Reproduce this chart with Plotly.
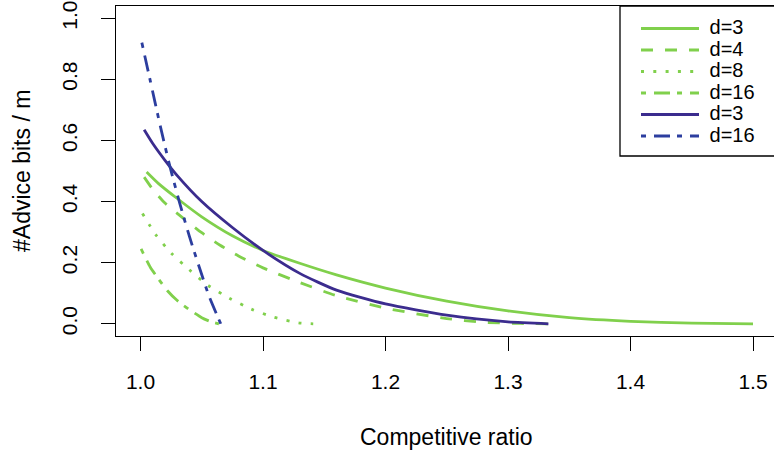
import plotly.graph_objects as go

# ---- data ----
x_g3 = [1.005, 1.015, 1.03, 1.05, 1.075, 1.10, 1.13, 1.16, 1.20, 1.25, 1.30, 1.35, 1.40, 1.45, 1.50]
y_g3 = [0.497, 0.458, 0.41, 0.35, 0.288, 0.240, 0.198, 0.160, 0.117, 0.074, 0.042, 0.020, 0.008, 0.002, 0.0]

x_g4 = [1.003, 1.01, 1.02, 1.035, 1.05, 1.065, 1.08, 1.10, 1.13, 1.16, 1.20, 1.25, 1.28, 1.31, 1.333]
y_g4 = [0.48, 0.44, 0.395, 0.345, 0.298, 0.257, 0.222, 0.183, 0.135, 0.092, 0.051, 0.017, 0.005, 0.001, 0.0]

x_g8 = [1.0016, 1.0122, 1.0251, 1.0398, 1.055, 1.0724, 1.0904, 1.1091, 1.129, 1.141]
y_g8 = [0.361, 0.293, 0.231, 0.177, 0.126, 0.084, 0.048, 0.021, 0.003, 0.0]

x_g16 = [1.0005, 1.008, 1.015, 1.022, 1.03, 1.04, 1.05, 1.058, 1.064]
y_g16 = [0.245, 0.185, 0.145, 0.108, 0.076, 0.046, 0.02, 0.006, 0.0]

x_b3 = [1.003, 1.01, 1.02, 1.03, 1.05, 1.075, 1.10, 1.13, 1.16, 1.20, 1.25, 1.30, 1.333]
y_b3 = [0.635, 0.59, 0.535, 0.485, 0.40, 0.315, 0.240, 0.165, 0.11, 0.065, 0.028, 0.006, 0.0]

x_b16 = [1.0011, 1.008, 1.016, 1.024, 1.032, 1.04, 1.048, 1.056, 1.0655]
y_b16 = [0.92, 0.795, 0.65, 0.515, 0.395, 0.285, 0.185, 0.09, 0.0]

series_names = ["d=3", "d=4", "d=8", "d=16", "d=3", "d=16"]
x_ticks = [1.0, 1.1, 1.2, 1.3, 1.4, 1.5]
x_tick_labels = ["1.0", "1.1", "1.2", "1.3", "1.4", "1.5"]
y_ticks = [0.0, 0.2, 0.4, 0.6, 0.8, 1.0]
y_tick_labels = ["0.0", "0.2", "0.4", "0.6", "0.8", "1.0"]
x_title = "Competitive ratio"
y_title = "#Advice bits / m"

GREEN = "#80D04C"
PURPLE = "#3B2C8E"
BLUE = "#2C3E9F"
LW = 2.8
SOLID = "solid"
DASHED = "12px,12px"
DOTTED = "3px,9.3px"
DASHDOT = "5px,8px,16px,7px"

FONT = "Liberation Sans, Arial, Helvetica, sans-serif"
TICK_FS = 21
TITLE_FS = 23
LEG_FS = 20

specs = [
    (x_g3, y_g3, GREEN, SOLID),
    (x_g4, y_g4, GREEN, DASHED),
    (x_g8, y_g8, GREEN, DOTTED),
    (x_g16, y_g16, GREEN, DASHDOT),
    (x_b3, y_b3, PURPLE, SOLID),
    (x_b16, y_b16, BLUE, DASHDOT),
]

fig = go.Figure()
for (xs, ys, col, dash), name in zip(specs, series_names):
    fig.add_trace(go.Scatter(
        x=xs, y=ys, mode="lines",
        name='<span style="font-size:%dpx">\u00a0%s</span>' % (LEG_FS, name),
        line=dict(color=col, width=LW, dash=dash, shape="spline", smoothing=0.6),
    ))

W, H = 774, 454
L, R, T, B = 116, 0, 6, 118
plot_w = W - L - R
plot_h = H - T - B
px_per_unit = 1225.0
x0 = 0.98


def px_x(p):
    return (p - L) / plot_w


def px_y(p):
    return (H - B - p) / plot_h


ROW_H = 21.5
leg_font = (ROW_H - 3) / 1.3

fig.update_layout(
    width=W, height=H,
    margin=dict(l=L, r=R, t=T, b=B, pad=0, autoexpand=False),
    paper_bgcolor="white", plot_bgcolor="white",
    font=dict(family=FONT, size=20, color="black"),
    showlegend=True,
    legend=dict(
        x=px_x(636), y=px_y(28.5 - ROW_H / 2 - 5), xanchor="left", yanchor="top",
        borderwidth=0, bgcolor="rgba(0,0,0,0)",
        font=dict(family=FONT, size=leg_font, color="black"),
        itemwidth=58,
    ),
    xaxis=dict(
        range=[x0, x0 + plot_w / px_per_unit], automargin=False,
        tickmode="array", tickvals=x_ticks, ticktext=x_tick_labels,
        ticks="outside", ticklen=14, tickwidth=1.3, tickcolor="black",
        showline=True, linecolor="black", linewidth=1.3, mirror=True,
        showgrid=False, zeroline=False,
        tickfont=dict(family=FONT, size=TICK_FS, color="black"),
        ticklabelstandoff=13,
    ),
    yaxis=dict(
        range=[-0.04, 1.04], automargin=False,
        tickmode="array", tickvals=y_ticks, ticktext=y_tick_labels,
        ticks="outside", ticklen=14, tickwidth=1.3, tickcolor="black",
        showline=True, linecolor="black", linewidth=1.3, mirror=False,
        showgrid=False, zeroline=False, tickangle=-90,
        tickfont=dict(family=FONT, size=TICK_FS, color="black"),
        ticklabelstandoff=15,
    ),
    shapes=[
        dict(type="rect", xref="paper", yref="paper",
             x0=px_x(620), x1=1.05, y0=px_y(156), y1=1.0,
             line=dict(color="black", width=1.3), fillcolor="white", layer="below"),
    ],
    annotations=[
        dict(text=x_title, xref="paper", yref="paper",
             x=px_x(446.5), y=px_y(437),
             xanchor="center", yanchor="middle", showarrow=False,
             font=dict(family=FONT, size=TITLE_FS, color="black")),
        dict(text=y_title, xref="paper", yref="paper",
             x=px_x(22), y=0.5, textangle=-90,
             xanchor="center", yanchor="middle", showarrow=False,
             font=dict(family=FONT, size=TITLE_FS, color="black")),
    ],
)

fig.write_html(
    "out.html",
    config={"displayModeBar": False},
    post_script="document.body.style.margin='0';document.body.style.padding='0';",
)
